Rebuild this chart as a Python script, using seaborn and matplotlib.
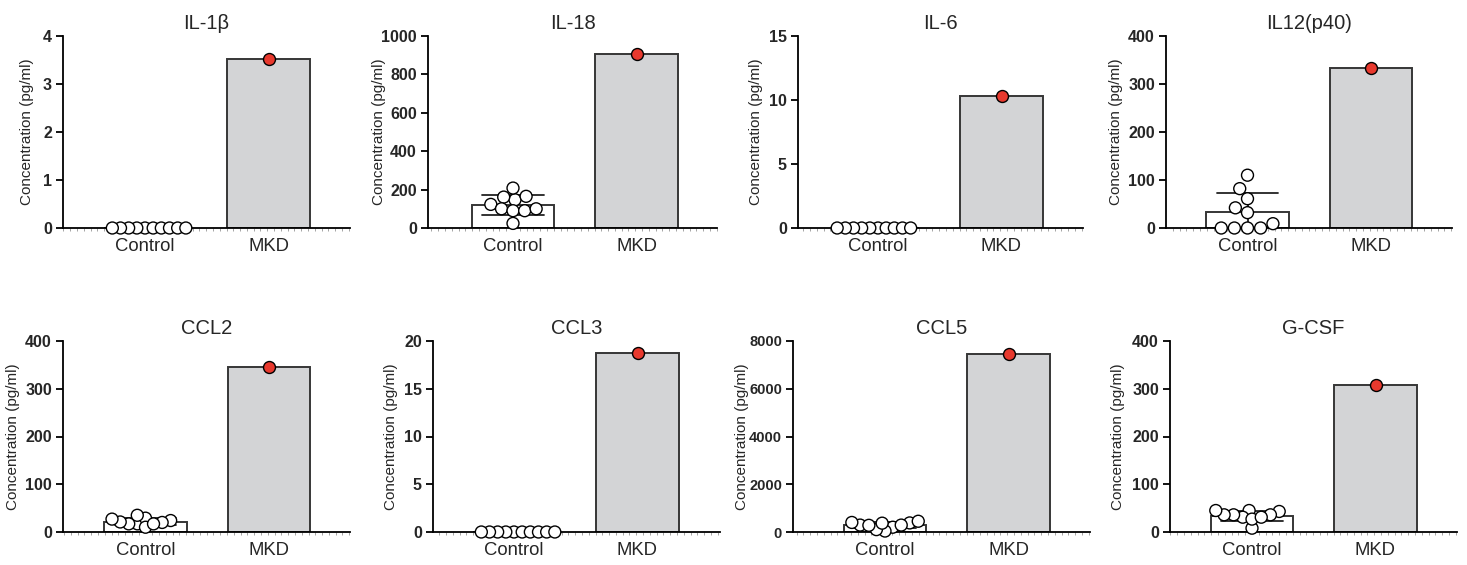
import matplotlib
matplotlib.use("Agg")
import matplotlib.pyplot as plt
from matplotlib.ticker import MultipleLocator
import numpy as np
import pandas as pd
import seaborn as sns

# ---- data ----
groups = ["Control", "MKD"]
titles = ["IL-1β", "IL-18", "IL-6", "IL12(p40)", "CCL2", "CCL3", "CCL5", "G-CSF"]

control_il1b = [0, 0, 0, 0, 0, 0, 0, 0, 0, 0]
control_il18 = [147, 208, 161, 165, 123, 100, 90, 90, 100, 24]
control_il6 = [0, 0, 0, 0, 0, 0, 0, 0, 0, 0]
control_il12 = [110, 82, 61, 42, 32, 9, 0, 0, 0, 0]
control_ccl2 = [24, 20, 17, 29, 10, 35, 17, 17, 21, 27]
control_ccl3 = [0, 0, 0, 0, 0, 0, 0, 0, 0, 0]
control_ccl5 = [380, 290, 200, 400, 40, 450, 100, 290, 280, 370]
control_gcsf = [45, 43, 31, 36, 8, 27, 36, 31, 36, 45]
controls = [control_il1b, control_il18, control_il6, control_il12,
            control_ccl2, control_ccl3, control_ccl5, control_gcsf]

mkd_values = [3.52, 905, 10.35, 334, 345, 18.7, 7440, 308]

y_max = [4, 1000, 15, 400, 400, 20, 8000, 400]
y_step = [1, 200, 5, 100, 100, 5, 2000, 100]

# ---- layout (pixels in a 1467x565 canvas) ----
W, H = 1467, 565
panel_left = [63, 428, 798, 1166, 63, 433, 793, 1170]
panel_width = [287, 289, 285, 286, 287, 287, 297, 287]
first_cat = [82, 85, 80, 81.5, 82.5, 81, 92, 82]
row_top = [36, 36, 36, 36, 341, 341, 341, 341]
row_zero = [228, 228, 228, 228, 532, 532, 532, 532]
label_off = [-29, -42, -35, -43, -43, -35, -44, -45]
ytick_size = [11.5, 11.5, 11.5, 11.5, 11.5, 11.5, 10.5, 11.5]
swarm_size = [4.6, 7, 4.6, 8, 5, 4.6, 5, 5.5]
cat_step = 123.5

sns.set_style("ticks")
plt.rcParams["font.family"] = ["Liberation Sans", "DejaVu Sans"]

bar_pal = {"Control": "white", "MKD": "#d3d4d6"}
dot_pal = {"Control": "white", "MKD": "#e8392e"}

fig = plt.figure(figsize=(W / 100, H / 100), dpi=100)
swarm_sets = []

for i, title in enumerate(titles):
    left, width = panel_left[i], panel_width[i]
    top, zero = row_top[i], row_zero[i]
    ax = fig.add_axes([left / W, (H - zero) / H, width / W, (zero - top) / H])

    ctrl = controls[i]
    df = pd.DataFrame({
        "group": ["Control"] * len(ctrl) + ["MKD"],
        "value": ctrl + [mkd_values[i]],
    })

    sns.barplot(data=df, x="group", y="value", hue="group", order=groups,
                hue_order=groups, palette=bar_pal, dodge=False, legend=False,
                errorbar="sd", capsize=0.5, width=0.67,
                edgecolor="#363636", linewidth=1.4,
                err_kws={"color": "#222222", "linewidth": 1.3}, ax=ax)

    n_before = len(ax.collections)
    sns.swarmplot(data=df, x="group", y="value", hue="group", order=groups,
                  hue_order=groups, palette=dot_pal, size=swarm_size[i],
                  edgecolor="black", linewidth=1, legend=False, ax=ax)
    swarm_sets.extend(ax.collections[n_before:])

    lo = -first_cat[i] / cat_step
    hi = (width - first_cat[i]) / cat_step
    ax.set_xlim(lo, hi)
    ax.set_ylim(0, y_max[i])

    ticks = np.arange(0, y_max[i] + y_step[i] / 2, y_step[i])
    ax.set_yticks(ticks, labels=[f"{t:g}" for t in ticks], fontweight="bold",
                  fontsize=ytick_size[i])
    ax.tick_params(axis="y", length=5, width=1.3, pad=3, color="black")
    ax.tick_params(axis="x", which="major", length=0, labelsize=13.3, pad=7)
    ax.xaxis.set_minor_locator(MultipleLocator(0.055))
    ax.tick_params(axis="x", which="minor", length=1.8, width=0.5,
                   color="#808080", direction="out")

    sns.despine(ax=ax)
    for side in ["left", "bottom"]:
        ax.spines[side].set_linewidth(1.3)
        ax.spines[side].set_color("black")

    ax.set_xlabel("")
    ax.set_ylabel("Concentration (pg/ml)", fontsize=11)
    ax.yaxis.set_label_coords(label_off[i] / width, 0.5)
    ax.set_title(title, fontsize=14.5, pad=5)

# let the swarm algorithm place points at a tight spacing, then enlarge markers
fig.canvas.draw()
for coll in swarm_sets:
    if "draw" in coll.__dict__:
        del coll.draw
    coll.set_sizes([74])
    coll.set_clip_on(False)
    coll.set_zorder(5)

fig.savefig("out.png", dpi=100)
